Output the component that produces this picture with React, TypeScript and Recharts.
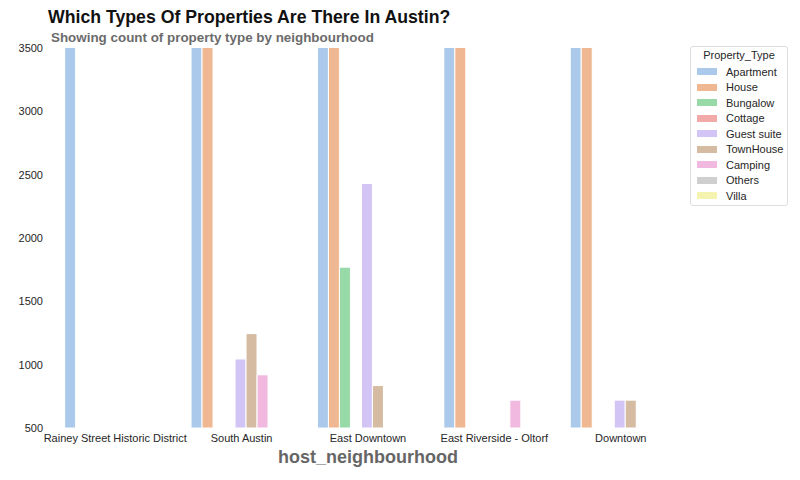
import React from 'react';
import { BarChart, Bar, XAxis, YAxis } from 'recharts';

const neighbourhoods = [
  'Rainey Street Historic District',
  'South Austin',
  'East Downtown',
  'East Riverside - Oltorf',
  'Downtown',
];

// counts per property type, one value per neighbourhood (null = not shown)
const apartment = [4800, 4100, 3900, 4300, 5200];
const house = [null, 3800, 3700, 3650, 3700];
const bungalow = [null, null, 1770, null, null];
const cottage = [null, null, null, null, null];
const guestSuite = [null, 1045, 2430, null, 720];
const townHouse = [null, 1245, 835, null, 720];
const camping = [null, 920, null, 720, null];
const others = [null, null, null, null, null];
const villa = [null, null, null, null, null];

const yTicks = [500, 1000, 1500, 2000, 2500, 3000, 3500];

// pastel palette, desaturated like seaborn's barplot
const series = [
  { key: 'Apartment', values: apartment, color: '#abc9ea' },
  { key: 'House', values: house, color: '#efb792' },
  { key: 'Bungalow', values: bungalow, color: '#98daa7' },
  { key: 'Cottage', values: cottage, color: '#f2aaa8' },
  { key: 'Guest suite', values: guestSuite, color: '#d3c4f6' },
  { key: 'TownHouse', values: townHouse, color: '#d6bba3' },
  { key: 'Camping', values: camping, color: '#f1b9e0' },
  { key: 'Others', values: others, color: '#cfcfcf' },
  { key: 'Villa', values: villa, color: '#f4f3af' },
];

const data = neighbourhoods.map((name, i) => {
  const row: any = { name };
  series.forEach((s) => {
    row[s.key] = s.values[i];
  });
  return row;
});

const FONT = '"Liberation Sans", Arial, sans-serif';

const LegendBox = () => (
  <div
    style={{
      position: 'absolute',
      left: 690,
      top: 46,
      width: 98,
      height: 160,
      boxSizing: 'border-box',
      border: '1px solid #ddd',
      borderRadius: 3,
      background: '#fff',
      padding: '2px 0 0 6px',
      fontFamily: FONT,
      fontSize: 11,
      color: '#262626',
      whiteSpace: 'nowrap',
    }}
  >
    <div style={{ textAlign: 'center', paddingRight: 6, height: 15 }}>Property_Type</div>
    {series.map((s) => (
      <div key={s.key} style={{ display: 'flex', alignItems: 'center', height: 15.5 }}>
        <span
          style={{
            display: 'inline-block',
            width: 20,
            height: 7,
            background: s.color,
            marginRight: 9,
          }}
        />
        <span>{s.key}</span>
      </div>
    ))}
  </div>
);

export default function App() {
  return (
    <div style={{ position: 'absolute', left: 0, top: 0, width: 800, height: 480, background: '#fff' }}>
      <div
        style={{
          position: 'absolute',
          left: 48,
          top: 7,
          fontFamily: FONT,
          fontWeight: 'bold',
          fontSize: 17.7,
          color: '#111',
        }}
      >
        Which Types Of Properties Are There In Austin?
      </div>
      <div
        style={{
          position: 'absolute',
          left: 51,
          top: 30,
          fontFamily: FONT,
          fontWeight: 'bold',
          fontSize: 13.4,
          color: '#6b6b6b',
        }}
      >
        Showing count of property type by neighbourhood
      </div>
      <BarChart
        width={800}
        height={480}
        data={data}
        margin={{ top: 48, right: 116, bottom: 22, left: 0 }}
        barCategoryGap="10%"
        barGap={0}
      >
        <XAxis
          dataKey="name"
          height={30}
          axisLine={false}
          tickLine={false}
          tickSize={0}
          tickMargin={6}
          interval={0}
          tick={{ fontSize: 11, fill: '#262626', fontFamily: FONT }}
        />
        <YAxis
          domain={[500, 3500]}
          allowDataOverflow
          ticks={yTicks}
          width={52}
          axisLine={false}
          tickLine={false}
          tickSize={0}
          tickMargin={9}
          tick={{ fontSize: 11, fill: '#262626', fontFamily: FONT }}
        />
        {series.map((s) => (
          <Bar
            key={s.key}
            dataKey={s.key}
            fill={s.color}
            stroke="#fff"
            strokeWidth={1}
            isAnimationActive={false}
          />
        ))}
      </BarChart>
      <LegendBox />
      <div
        style={{
          position: 'absolute',
          left: 52,
          width: 632,
          top: 447,
          textAlign: 'center',
          fontFamily: FONT,
          fontWeight: 'bold',
          fontSize: 18,
          color: '#666',
        }}
      >
        host_neighbourhood
      </div>
    </div>
  );
}
